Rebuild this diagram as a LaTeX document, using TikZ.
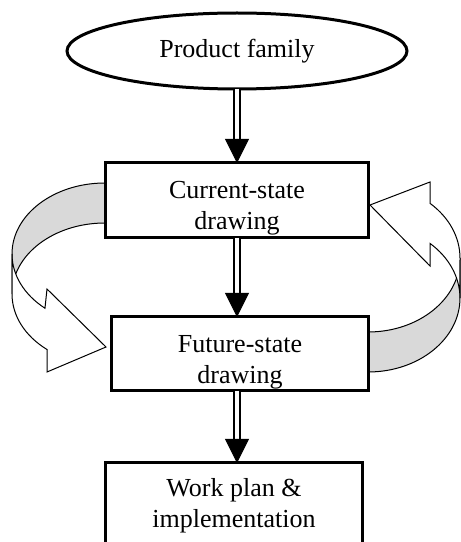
\documentclass[tikz,border=0pt]{standalone}
\usepackage{fontspec}
\setmainfont{Liberation Serif}
\usepackage{tikz}
\usetikzlibrary{positioning, arrows.meta, shapes.geometric}
\definecolor{bandgray}{HTML}{D9D9D9}
\newcommand{\toppad}{\rule{0pt}{16.5pt}}

\begin{document}
\begin{tikzpicture}[
    x=0.5pt, y=0.5pt,
    stepbox/.style={
        rectangle,
        draw=black,
        fill=white,
        line width=1.5pt,
        inner ysep=1pt,
        outer sep=0pt,
        align=center,
        font=\fontsize{13}{15.5}\selectfont
    },
    famoval/.style={
        ellipse,
        draw=black,
        fill=white,
        line width=1.5pt,
        outer sep=0pt,
        minimum width=170pt,
        minimum height=38pt,
        font=\fontsize{13}{15.5}\selectfont
    },
    shaft/.style={draw=black, line width=1pt, double=white, double distance=1.65pt},
    headtip/.style={-{Triangle[width=12pt,length=12pt]}, line width=0.5pt},
    band/.style={draw=black, line width=0.5pt, line join=miter}
]
    \useasboundingbox (0,0) rectangle (461,542);

    % Loop back: current -> future (left)
    \draw[band, fill=bandgray] (105,359) arc[start angle=90, end angle=180, x radius=93, y radius=71]
        -- (12,248) arc[start angle=180, end angle=90, x radius=93, y radius=71] -- cycle;
    \draw[band, fill=white] (12,288) arc[start angle=180, end angle=229.8, x radius=93, y radius=71]
        -- (47,253) -- (106,195) -- (47,170)
        -- (47,192.5) arc[start angle=231.4, end angle=180, x radius=93, y radius=71] -- cycle;

    % Loop back: future -> current (right)
    \draw[band, fill=bandgray] (368,210) arc[start angle=270, end angle=360, x radius=92, y radius=74]
        -- (460,244) arc[start angle=0, end angle=-90, x radius=92, y radius=74] -- cycle;
    \draw[band, fill=white] (460,284) arc[start angle=0, end angle=47.6, x radius=92, y radius=74]
        -- (430,360) -- (370,337) -- (430,276)
        -- (430,298.6) arc[start angle=47.6, end angle=0, x radius=92, y radius=74] -- cycle;

    % Steps
    \node[famoval] (fam) at (237,491) {Product family};
    \node[stepbox, minimum width=131.5pt, minimum height=37.5pt, below=37pt of fam] (cur) {\toppad Current-state\\drawing};
    \node[stepbox, minimum width=128.5pt, minimum height=37pt, below=39.5pt of cur, xshift=1.5pt] (fut) {\toppad Future-state\\drawing};
    \node[stepbox, minimum width=128.5pt, minimum height=43pt, below=36pt of fut, xshift=-3pt] (plan) {Work plan \&\\implementation};

    % Flow arrows
    \foreach \a/\b in {fam/cur, cur/fut, fut/plan} {
        \draw[shaft, shorten >=11pt] (fam.south |- \a.south) -- (fam.south |- \b.north);
        \draw[headtip] (fam.south |- \b.north) +(0,24) -- (fam.south |- \b.north);
    }
\end{tikzpicture}
\end{document}
